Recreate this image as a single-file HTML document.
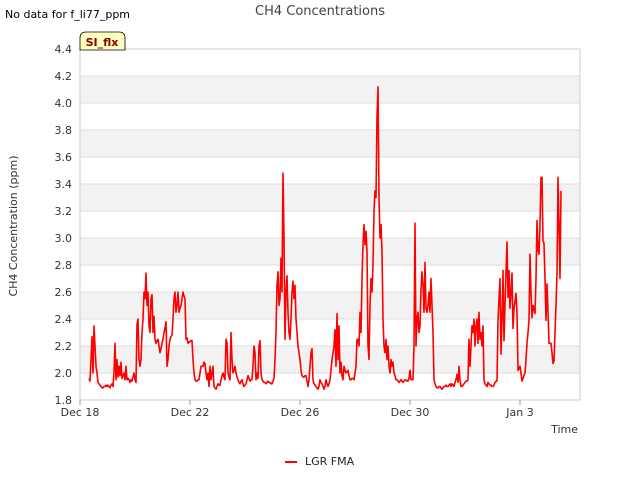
<!DOCTYPE html>
<html><head><meta charset="utf-8"><style>
body{margin:0;background:#fff;font-family:"Liberation Sans","DejaVu Sans",sans-serif}
</style></head><body>
<svg id="chart" width="640" height="480" xmlns="http://www.w3.org/2000/svg" font-family="DejaVu Sans, Liberation Sans, sans-serif">
<text x="5" y="18" font-size="11" fill="#000">No data for f_li77_ppm</text>
<text x="320" y="15" font-size="13" fill="#444" text-anchor="middle">CH4 Concentrations</text>
<g id="bands"></g><g id="grid"></g>
<rect x="80" y="49" width="500" height="351" fill="none" stroke="#ccc"/>
<g id="yticks"></g><g id="xticks"></g>
<path id="series" fill="none" stroke="#f00" stroke-width="1.6" stroke-linejoin="round"/>
<text transform="translate(17,226) rotate(-90)" font-size="11" fill="#333" text-anchor="middle">CH4 Concentration (ppm)</text>
<text x="578" y="433" font-size="11" fill="#333" text-anchor="end">Time</text>
<g>
<path d="M80,50 L80,38 Q80,32 86,32 L119,32 Q125,32 125,38 L125,50 Z" fill="#ffffc0" stroke="#000" stroke-width="0.8"/>
<text x="102" y="46" font-size="11" font-weight="bold" fill="#8b0000" text-anchor="middle">SI_flx</text></g>
<g>
<line x1="285" y1="462" x2="297" y2="462" stroke="#f00" stroke-width="2"/>
<text x="305" y="465" font-size="11" fill="#222">LGR FMA</text></g>
</svg>
<script>
const yTicks=[1.8,2.0,2.2,2.4,2.6,2.8,3.0,3.2,3.4,3.6,3.8,4.0,4.2,4.4];
const xTickDays=[0,4,8,12,16];
const xTickLabels=["Dec 18","Dec 22","Dec 26","Dec 30","Jan 3"];
const startDay=9/27.5;
const stepDay=1/27.5;
const values=[1.96,1.94,2.1,2.27,2.0,2.35,2.2,2.05,2.0,1.93,1.92,1.91,1.9,1.89,1.89,1.9,1.9,1.91,1.9,1.91,1.9,1.89,1.91,1.92,1.9,2.0,2.22,1.95,2.1,1.97,2.05,1.98,2.08,1.96,1.98,2.0,1.95,2.05,1.95,1.96,1.95,1.93,1.95,1.94,1.97,2.0,1.95,1.93,2.36,2.4,2.1,2.05,2.1,2.3,2.4,2.6,2.55,2.74,2.5,2.6,2.35,2.3,2.55,2.58,2.3,2.42,2.25,2.22,2.24,2.25,2.2,2.15,2.18,2.22,2.25,2.3,2.33,2.38,2.05,2.1,2.2,2.25,2.27,2.28,2.4,2.55,2.6,2.45,2.5,2.6,2.45,2.48,2.5,2.55,2.6,2.57,2.55,2.25,2.26,2.22,2.23,2.23,2.24,2.24,2.1,2.0,1.95,1.94,1.94,1.95,1.95,2.0,2.05,2.05,2.05,2.08,2.07,2.0,1.95,2.0,1.9,2.05,1.95,2.0,2.05,1.9,1.89,1.88,1.9,1.92,1.91,1.91,1.95,1.98,2.0,1.97,1.95,2.25,2.22,2.0,1.97,1.95,2.3,2.1,2.0,2.02,2.05,2.0,1.97,1.95,1.93,1.92,1.94,1.95,1.92,1.9,1.91,1.92,1.95,1.98,1.96,1.94,1.95,1.95,2.05,2.2,2.15,1.95,2.0,1.96,2.2,2.24,2.0,1.95,1.94,1.93,1.93,1.92,1.93,1.94,1.93,1.93,1.92,1.92,1.94,1.96,2.1,2.3,2.65,2.75,2.5,2.55,2.85,2.6,3.48,3.0,2.25,2.6,2.72,2.45,2.3,2.25,2.4,2.6,2.68,2.55,2.65,2.4,2.3,2.2,2.15,2.1,2.02,1.98,1.97,1.97,1.98,1.98,1.94,1.9,1.95,2.05,2.15,2.18,1.95,1.92,1.91,1.9,1.89,1.88,1.9,1.95,1.93,1.92,1.9,1.88,1.9,1.95,1.92,1.9,1.92,1.95,2.02,2.1,2.15,2.2,2.32,2.05,2.44,2.1,2.35,2.0,2.08,1.98,1.95,2.05,2.02,2.0,2.01,2.02,1.98,1.95,1.95,1.96,1.96,1.95,2.0,2.05,2.25,2.25,2.2,2.45,2.3,2.7,2.95,3.1,2.95,3.05,2.9,2.2,2.1,2.5,2.7,2.6,2.8,3.2,3.35,3.3,3.9,4.12,3.3,3.0,3.1,2.9,2.4,2.2,2.15,2.25,2.1,2.2,2.05,2.0,2.1,2.05,2.08,2.0,1.98,1.95,1.95,1.94,1.93,1.94,1.95,1.94,1.93,1.94,1.95,1.95,1.94,1.94,1.96,2.02,1.95,1.95,1.95,2.2,3.11,2.2,2.4,2.45,2.3,2.35,2.62,2.75,2.65,2.45,2.82,2.48,2.45,2.5,2.6,2.45,2.7,2.5,2.3,1.95,1.92,1.9,1.89,1.89,1.9,1.9,1.89,1.88,1.89,1.9,1.9,1.91,1.9,1.9,1.91,1.92,1.9,1.92,1.91,1.9,1.93,1.95,1.99,1.93,2.05,1.95,1.9,1.9,1.91,1.92,1.93,1.94,1.94,1.95,2.25,2.05,2.2,2.35,2.3,2.4,2.2,2.35,2.4,2.22,2.45,2.25,2.3,2.2,2.35,1.95,1.92,1.91,1.9,1.93,1.92,1.91,1.91,1.9,1.9,1.91,1.93,1.94,1.94,2.39,2.55,2.7,2.14,2.39,2.76,2.24,2.5,2.75,2.97,2.56,2.76,2.48,2.6,2.74,2.33,2.48,2.53,2.59,2.44,2.02,2.03,2.05,2.0,1.94,1.96,1.98,2.0,2.1,2.22,2.3,2.39,2.88,2.6,2.41,2.5,2.47,2.44,2.7,3.13,2.91,2.88,3.1,3.45,3.45,2.98,2.96,2.7,2.39,2.66,2.45,2.22,2.22,2.22,2.15,2.07,2.09,2.3,2.5,2.74,3.45,3.1,2.7,3.35];
const X0=80,X1=580,Y0=400,Y1=49,xMin=0,xMax=500/27.5,yMin=1.8,yMax=4.4;
const xs=d=>X0+(d-xMin)/(xMax-xMin)*(X1-X0);
const ys=v=>Y0-(v-yMin)/(yMax-yMin)*(Y0-Y1);
const NS="http://www.w3.org/2000/svg";
function mk(tag,attrs,parent){const e=document.createElementNS(NS,tag);for(const k in attrs)e.setAttribute(k,attrs[k]);document.getElementById(parent).appendChild(e);return e;}
for(let i=0;i<yTicks.length-1;i++){
  if(i%2===1){const b=mk('rect',{x:X0,y:ys(yTicks[i+1]),width:X1-X0,height:ys(yTicks[i])-ys(yTicks[i+1]),fill:'#f2f2f2'},'bands');
  
  }
}
yTicks.forEach(v=>{
  const g=mk('line',{x1:X0,x2:X1,y1:ys(v),y2:ys(v),stroke:'#ddd','stroke-width':1},'grid');
  
  
  const t=mk('text',{x:72,y:ys(v)+4,'font-size':11,fill:'#333','text-anchor':'end'},'yticks');
  t.textContent=v.toFixed(1);
  
  
});
xTickDays.forEach((d,i)=>{
  const l=mk('line',{x1:xs(d),x2:xs(d),y1:Y0,y2:Y0+5,stroke:'#999'},'xticks');
  
  
  const t=mk('text',{x:xs(d),y:Y0+16,'font-size':11,fill:'#333','text-anchor':'middle'},'xticks');
  t.textContent=xTickLabels[i];
  
  
});
let d='';
values.forEach((v,i)=>{d+=(i?'L':'M')+xs(startDay+i*stepDay).toFixed(2)+','+ys(v).toFixed(2);});
document.getElementById('series').setAttribute('d',d);
</script>
</body></html>
